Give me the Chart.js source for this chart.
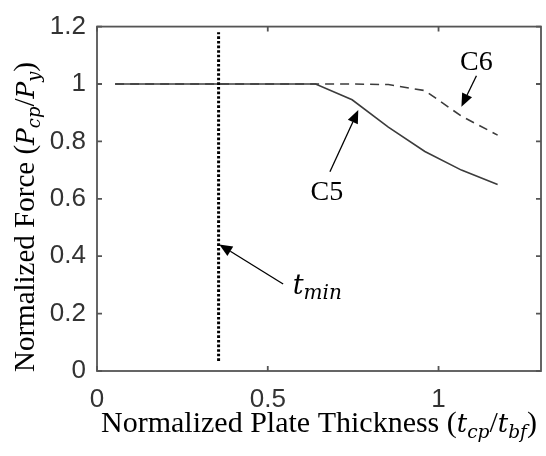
<!DOCTYPE html>
<html>
<head>
<meta charset="utf-8">
<script src="https://cdn.jsdelivr.net/npm/chart.js@4.4.1/dist/chart.umd.min.js"></script>
<style>
  body { margin: 0; background: #fff; }
  canvas { display: block; }
</style>
</head>
<body>
<canvas id="myChart" width="546" height="456"></canvas>
<script>
// data
const thickness = [0.053, 0.64, 0.747, 0.853, 0.96, 1.067, 1.173];
const forceC5 = [1, 1, 0.945, 0.85, 0.765, 0.70, 0.65];
const forceC6 = [1, 1, 1, 0.998, 0.977, 0.888, 0.822];
const tMinX = [0.356, 0.356];
const tMinY = [0.035, 1.18];
const xTicks = [0, 0.5, 1];
const yTicks = [0, 0.2, 0.4, 0.6, 0.8, 1, 1.2];

// annotations (data units)
const noteLabels = [
    { text: 'C6', x: 1.111, y: 1.074 },
    { text: 'C5', x: 0.673, y: 0.623 }
];
const noteArrows = [
    { from: [1.111, 1.029], to: [1.067, 0.921] },
    { from: [0.682, 0.694], to: [0.765, 0.909] },
    { from: [0.545, 0.303], to: [0.358, 0.441] }
];

const SERIF = "'Liberation Serif', 'Times New Roman', serif";
const MATH = "'DejaVu Serif', serif";
const AXIS_COLOR = '#555555';

const xTitle = [
    { t: 'Normalized Plate Thickness ' },
    { t: '(' },
    { t: 't', m: true }, { t: 'cp', m: true, sub: true },
    { t: '/' },
    { t: 't', m: true }, { t: 'bf', m: true, sub: true },
    { t: ')' }
];
const yTitle = [
    { t: 'Normalized Force ' },
    { t: '(' },
    { t: 'P', m: true }, { t: 'cp', m: true, sub: true },
    { t: '/' },
    { t: 'P', m: true }, { t: 'y', m: true, sub: true },
    { t: ')' }
];

const toXY = (xs, ys) => xs.map((x, i) => ({ x: x, y: ys[i] }));

function segFont(s, size) {
    if (s.m) return 'italic ' + (s.sub ? size * 0.62 : size * 0.86) + 'px ' + MATH;
    return size + 'px ' + SERIF;
}

// draws a title with italic math parts and subscripts, centred on (cx, cy)
function drawRich(ctx, segs, cx, cy, size) {
    let w = 0;
    segs.forEach(s => { ctx.font = segFont(s, size); s.w = ctx.measureText(s.t).width; w += s.w; });
    let x = cx - w / 2;
    ctx.textBaseline = 'alphabetic';
    ctx.textAlign = 'left';
    segs.forEach(s => {
        ctx.font = segFont(s, size);
        ctx.fillText(s.t, x, cy + (s.sub ? size * 0.2 : 0));
        x += s.w;
    });
}

function drawArrow(ctx, x1, y1, x2, y2) {
    const a = Math.atan2(y2 - y1, x2 - x1);
    const len = 13, half = 5.5;
    const bx = x2 - len * Math.cos(a), by = y2 - len * Math.sin(a);
    ctx.beginPath();
    ctx.moveTo(x1, y1);
    ctx.lineTo(bx, by);
    ctx.stroke();
    ctx.beginPath();
    ctx.moveTo(x2, y2);
    ctx.lineTo(bx + half * Math.sin(a), by - half * Math.cos(a));
    ctx.lineTo(bx - half * Math.sin(a), by + half * Math.cos(a));
    ctx.closePath();
    ctx.fill();
}

// box with inward ticks on all four sides
const frame = {
    id: 'frame',
    beforeDatasetsDraw(chart) {
        const ctx = chart.ctx;
        const a = chart.chartArea;
        const xs = chart.scales.x, ys = chart.scales.y;
        ctx.save();
        ctx.setLineDash([]);
        ctx.strokeStyle = AXIS_COLOR;
        ctx.lineWidth = 1.8;
        ctx.strokeRect(a.left, a.top, a.right - a.left, a.bottom - a.top);
        ctx.beginPath();
        xTicks.forEach(v => {
            const px = xs.getPixelForValue(v);
            ctx.moveTo(px, a.bottom); ctx.lineTo(px, a.bottom - 5);
            ctx.moveTo(px, a.top); ctx.lineTo(px, a.top + 5);
        });
        yTicks.forEach(v => {
            const py = ys.getPixelForValue(v);
            ctx.moveTo(a.left, py); ctx.lineTo(a.left + 5, py);
            ctx.moveTo(a.right, py); ctx.lineTo(a.right - 5, py);
        });
        ctx.stroke();
        ctx.restore();
    }
};

const notes = {
    id: 'notes',
    afterDraw(chart) {
        const ctx = chart.ctx;
        const a = chart.chartArea;
        const xs = chart.scales.x, ys = chart.scales.y;
        ctx.save();
        ctx.setLineDash([]);
        ctx.strokeStyle = '#000';
        ctx.fillStyle = '#000';
        ctx.lineWidth = 1.3;
        noteArrows.forEach(n => drawArrow(ctx,
            xs.getPixelForValue(n.from[0]), ys.getPixelForValue(n.from[1]),
            xs.getPixelForValue(n.to[0]), ys.getPixelForValue(n.to[1])));
        ctx.font = '28px ' + SERIF;
        ctx.textAlign = 'center';
        ctx.textBaseline = 'middle';
        noteLabels.forEach(n => ctx.fillText(n.text, xs.getPixelForValue(n.x), ys.getPixelForValue(n.y)));
        // t_min
        const tx = xs.getPixelForValue(0.573), ty = ys.getPixelForValue(0.269);
        ctx.textAlign = 'left';
        ctx.textBaseline = 'alphabetic';
        ctx.font = 'italic 27px ' + MATH;
        ctx.fillText('t', tx, ty);
        const tw = ctx.measureText('t').width;
        ctx.font = 'italic 20px ' + MATH;
        ctx.fillText('min', tx + tw, ty + 5);

        // axis titles
        drawRich(ctx, xTitle, (a.left + a.right) / 2, 432, 30);
        ctx.translate(34, 217);
        ctx.rotate(-Math.PI / 2);
        drawRich(ctx, yTitle, 0, 0, 29);
        ctx.restore();
    }
};

const tickFont = { family: "'Liberation Sans', Arial, sans-serif", size: 26 };

const myChart = document.getElementById('myChart').getContext('2d');

let forceChart = new Chart(myChart, {
    type: 'line',
    data: {
        datasets: [{
            label: 't_min',
            data: toXY(tMinX, tMinY),
            borderColor: '#000',
            borderWidth: 3,
            borderDash: [2.6, 2],
            pointRadius: 0
        }, {
            label: 'C5',
            data: toXY(thickness, forceC5),
            borderColor: '#3c3c3c',
            borderWidth: 1.6,
            pointRadius: 0,
            tension: 0
        }, {
            label: 'C6',
            data: toXY(thickness, forceC6),
            borderColor: '#3c3c3c',
            borderWidth: 1.6,
            borderDash: [9, 6],
            pointRadius: 0,
            tension: 0
        }]
    },
    options: {
        responsive: false,
        animation: false,
        layout: { padding: { left: 0, right: 5, top: 18, bottom: 0 } },
        plugins: {
            legend: { display: false },
            tooltip: { enabled: false }
        },
        scales: {
            x: {
                type: 'linear',
                min: 0,
                max: 1.3,
                afterBuildTicks: s => { s.ticks = xTicks.map(v => ({ value: v })); },
                afterFit: s => { s.height = 85; },
                grid: { display: false, drawTicks: false },
                border: { display: false },
                ticks: {
                    padding: 13,
                    color: '#333',
                    maxRotation: 0,
                    callback: v => String(v),
                    font: tickFont
                }
            },
            y: {
                type: 'linear',
                min: 0,
                max: 1.2,
                afterBuildTicks: s => { s.ticks = yTicks.map(v => ({ value: v })); },
                afterFit: s => { s.width = 97; },
                grid: { display: false, drawTicks: false },
                border: { display: false },
                ticks: {
                    padding: 11,
                    color: '#333',
                    callback: v => String(v),
                    font: tickFont
                }
            }
        }
    },
    plugins: [frame, notes]
});
</script>
</body>
</html>
